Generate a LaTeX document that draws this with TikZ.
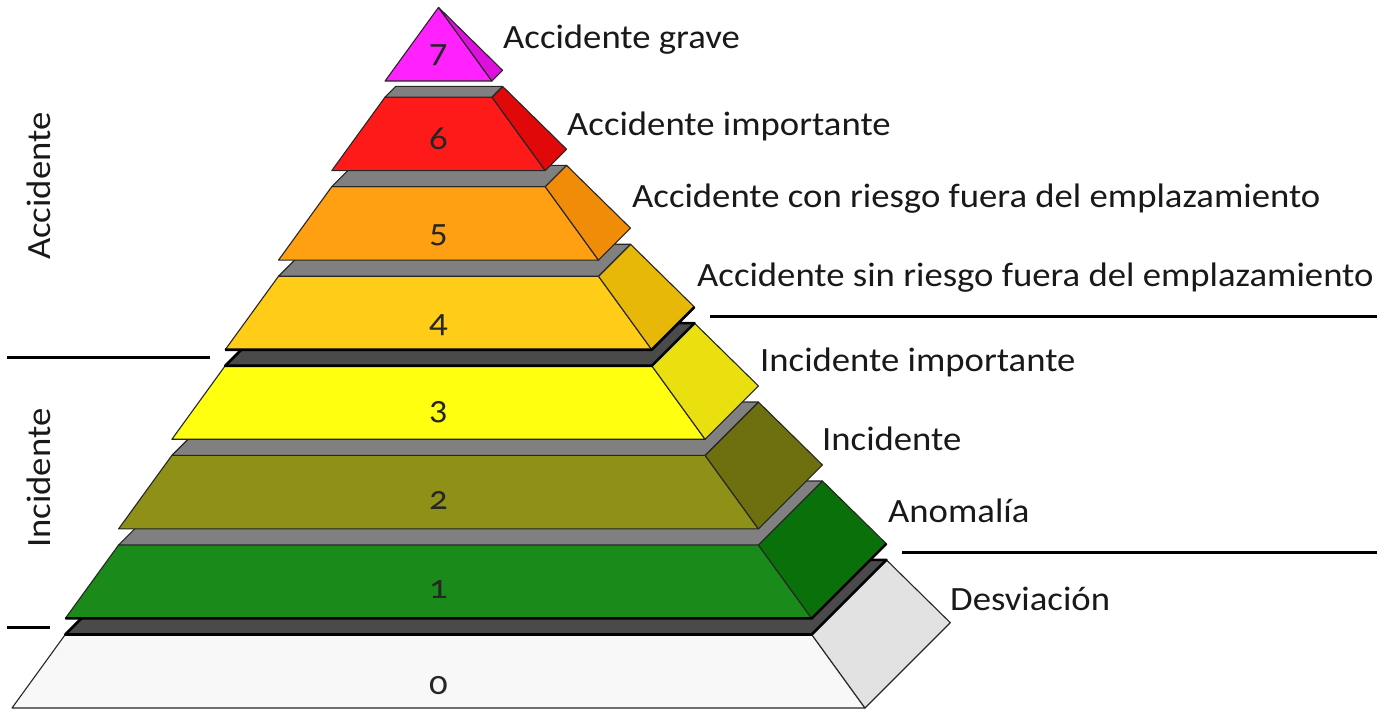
\documentclass[tikz,border=0pt]{standalone}
\usepackage{fontspec}
\setmainfont{Carlito}[Numbers=OldStyle, FakeStretch=1.08]
\definecolor{fr0}{HTML}{F8F8F8}\definecolor{sd0}{HTML}{E2E2E2}
\definecolor{fr1}{HTML}{1A8A1A}\definecolor{sd1}{HTML}{0A700A}
\definecolor{fr2}{HTML}{8E9018}\definecolor{sd2}{HTML}{6E7010}
\definecolor{fr3}{HTML}{FFFF10}\definecolor{sd3}{HTML}{EAE010}
\definecolor{fr4}{HTML}{FFCC18}\definecolor{sd4}{HTML}{E8B808}
\definecolor{fr5}{HTML}{FFA012}\definecolor{sd5}{HTML}{F08C08}
\definecolor{fr6}{HTML}{FF1A1A}\definecolor{sd6}{HTML}{E00808}
\definecolor{fr7}{HTML}{FF22FF}\definecolor{sd7}{HTML}{DD10DD}
\definecolor{stripgray}{HTML}{808080}
\definecolor{stripdark}{HTML}{4A4A4A}
\newcommand\pyrpoints[1]{%
  \pgfmathsetmacro\wb{426.5-53.3*#1}%
  \pgfmathsetmacro\wt{373.2-53.3*#1}%
  \pgfmathsetmacro\yb{708-89.57*#1}%
  \pgfmathsetmacro\yt{\yb-73.5}%
  \coordinate (fbl#1) at ({438.5-\wb},\yb);
  \coordinate (fbr#1) at ({438.5+\wb},\yb);
  \coordinate (ftr#1) at ({438.5+\wt},\yt);
  \coordinate (ftl#1) at ({438.5-\wt},\yt);
  \coordinate (bbr#1) at ({438.5+1.2*\wb},{\yb-0.2*\wb});
  \coordinate (btr#1) at ({438.5+1.2*\wt},{\yt-0.2*\wt});
  \coordinate (btl#1) at ({438.5-0.8*\wt},{\yt-0.2*\wt});
}
\newcommand\pyrblock[2]{% level, number position y
  \fill[fr#1] (fbl#1) -- (fbr#1) -- (ftr#1) -- (ftl#1) -- cycle;
  \draw[edge] (fbl#1) -- (fbr#1) -- (ftr#1) -- (ftl#1) -- cycle;
  \fill[sd#1] (fbr#1) -- (bbr#1) -- (btr#1) -- (ftr#1) -- cycle;
  \draw[edge] (fbr#1) -- (bbr#1) -- (btr#1) -- (ftr#1) -- cycle;
  \node[num] (n#1) at (438.5,#2) {#1};
}
\newcommand\pyrtop[2]{% level, style
  \filldraw[#2] (ftl#1) -- (ftr#1) -- (btr#1) -- (btl#1) -- cycle;
}
\begin{document}
\begin{tikzpicture}[x=1pt,y=-1pt,
  edge/.style={draw=black!85, line width=1.1pt, line join=round},
  graytop/.style={fill=stripgray, draw=black!85, line width=1.1pt, line join=round},
  darktop/.style={fill=stripdark, draw=black, line width=2.6pt, line join=round},
  thickbase/.style={draw=black, line width=2.6pt, line join=round},
  lbl/.style={font=\fontsize{34}{36}\selectfont, anchor=base west, inner sep=0pt, text=black!90},
  side lbl/.style={font=\fontsize{34}{36}\selectfont, anchor=base west, inner sep=0pt, rotate=90, text=black!90},
  num/.style={font=\fontsize{34}{36}\selectfont, inner sep=0pt, text=black!85},
  sep/.style={draw=black, line width=3pt}]
\useasboundingbox (0,0) rectangle (1384,713);
\foreach \k in {0,...,7} {\pyrpoints{\k}}
\pyrblock{0}{686}
\pyrtop{0}{darktop}
\pyrblock{1}{590}
\draw[thickbase] (fbl1) -- (fbr1) -- (bbr1);
\pyrtop{1}{graytop}
\pyrblock{2}{500}
\pyrtop{2}{graytop}
\pyrblock{3}{412}
\pyrtop{3}{darktop}
\pyrblock{4}{325}
\draw[thickbase] (fbl4) -- (fbr4) -- (bbr4);
\pyrtop{4}{graytop}
\pyrblock{5}{235}
\pyrtop{5}{graytop}
\pyrblock{6}{139}
\pyrtop{6}{graytop}
\pyrblock{7}{55}
% labels
\node[lbl] (t7) at (503,48) {Accidente grave};
\node[lbl] (t6) at (567,135) {Accidente importante};
\node[lbl] (t5) at (632,207) {Accidente con riesgo fuera del emplazamiento};
\node[lbl] (t4) at (697,286) {Accidente sin riesgo fuera del emplazamiento};
\node[lbl] (t3) at (760,371) {Incidente importante};
\node[lbl] (t2) at (822,450) {Incidente};
\node[lbl] (t1) at (888,522) {Anomalía};
\node[lbl] (t0) at (950,610) {Desviación};
\node[side lbl] (ga) at (50,260) {Accidente};
\node[side lbl] (gi) at (50,548) {Incidente};
% separators
\coordinate (s1a) at (7,357);   \coordinate (s1b) at (210,357);
\coordinate (s2a) at (7,627);   \coordinate (s2b) at (50,627);
\coordinate (s3a) at (710,316); \coordinate (s3b) at (1377,316);
\coordinate (s4a) at (902,552); \coordinate (s4b) at (1377,552);
\draw[sep] (s1a) -- (s1b);
\draw[sep] (s2a) -- (s2b);
\draw[sep] (s3a) -- (s3b);
\draw[sep] (s4a) -- (s4b);
\end{tikzpicture}
\end{document}
